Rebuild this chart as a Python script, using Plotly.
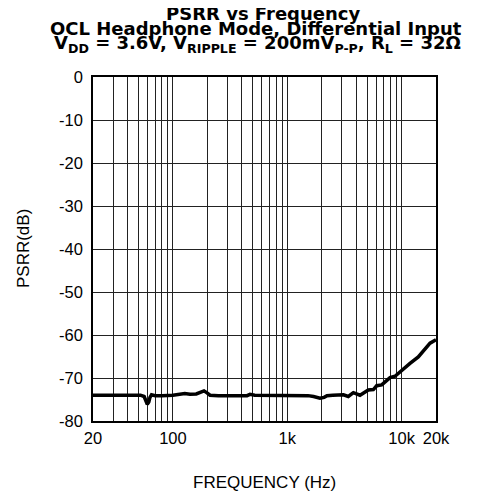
import plotly.graph_objects as go

# Data
freq_hz = [20, 28, 42, 52, 56, 58, 59.7, 61.5, 63, 65, 70, 80, 100, 127, 141, 160,
           173, 187, 200, 211, 250, 316, 380, 445, 472, 520, 578, 700, 830, 995,
           1100, 1295, 1518, 1700, 1820, 1933, 2100, 2227, 2500, 2893, 3100, 3420,
           3785, 4328, 4800, 5118, 5662, 6060, 6700, 7300, 7925, 8760, 10350,
           11850, 14000, 16030, 17740, 20000]
psrr_db = [-74.0, -74.0, -74.0, -74.0, -74.3, -75.3, -76.1, -75.6, -74.5, -73.9,
           -74.1, -74.1, -74.0, -73.6, -73.8, -73.7, -73.4, -73.0, -73.5, -74.0,
           -74.1, -74.2, -74.1, -74.1, -73.8, -74.0, -74.0, -74.1, -74.0, -74.1,
           -73.9, -73.9, -74.1, -74.3, -74.5, -74.7, -74.5, -74.1, -74.0, -74.0,
           -73.9, -74.3, -73.4, -74.0, -73.2, -72.8, -72.7, -71.8, -71.6, -70.7,
           -69.9, -69.6, -67.9, -66.6, -65.1, -63.3, -61.9, -61.1]

x_grid = [20, 30, 40, 50, 60, 70, 80, 90, 100, 200, 300, 400, 500, 600, 700, 800,
          900, 1000, 2000, 3000, 4000, 5000, 6000, 7000, 8000, 9000, 10000, 20000]
x_labels = {20: "20", 100: "100", 1000: "1k", 10000: "10k", 20000: "20k"}
y_ticks = [0, -10, -20, -30, -40, -50, -60, -70, -80]

title_lines = [
    "PSRR vs Frequency",
    "OCL Headphone Mode, Differential Input",
    "V<sub>DD</sub> = 3.6V, V<sub>RIPPLE</sub> = 200mV<sub>P-P</sub>, R<sub>L</sub> = 32Ω",
]
x_title = "FREQUENCY (Hz)"
y_title = "PSRR(dB)"

FONT = "Liberation Sans, Arial, sans-serif"
TITLE_FONT = "DejaVu Sans, Liberation Sans, sans-serif"

fig = go.Figure()
fig.add_trace(go.Scatter(x=freq_hz, y=psrr_db, mode="lines",
                         line=dict(color="black", width=3.5), showlegend=False))

fig.update_layout(
    width=469, height=487,
    margin=dict(l=85, r=41, t=69, b=74),
    paper_bgcolor="white", plot_bgcolor="white",
    font=dict(family=FONT, size=16, color="black"),
    showlegend=False,
)
fig.update_xaxes(
    type="log", range=[1.30103, 4.30103],
    tickvals=x_grid, ticktext=[x_labels.get(v, "") for v in x_grid],
    showgrid=True, gridcolor="#222222", gridwidth=1,
    showline=True, linecolor="black", linewidth=1.5, mirror=True,
    ticks="", tickfont=dict(size=16.5), zeroline=False, ticklabelstandoff=1,
)
fig.update_yaxes(
    range=[-80, 0], tickvals=y_ticks, ticktext=[str(v) for v in y_ticks],
    showgrid=True, gridcolor="#222222", gridwidth=1,
    showline=True, linecolor="black", linewidth=1.5, mirror=True,
    ticks="", tickfont=dict(size=16.5), zeroline=False, ticklabelstandoff=5,
)

ann = []
title_y = [1.186, 1.140, 1.097]
title_x = [0.495, 0.476, 0.481]
for t, xx, yy in zip(title_lines, title_x, title_y):
    ann.append(dict(text="<b>" + t + "</b>", x=xx, y=yy, xref="paper", yref="paper",
                    xanchor="center", yanchor="middle", showarrow=False,
                    font=dict(family=TITLE_FONT, size=18, color="black")))
ann.append(dict(text=x_title, x=0.5, y=-0.180, xref="paper", yref="paper",
                xanchor="center", yanchor="middle", showarrow=False,
                font=dict(family=FONT, size=17, color="black")))
ann.append(dict(text=y_title, x=-0.204, y=0.5, xref="paper", yref="paper",
                xanchor="center", yanchor="middle", showarrow=False, textangle=-90,
                font=dict(family=FONT, size=17, color="black")))
fig.update_layout(annotations=ann)

fig.write_html("out.html")
